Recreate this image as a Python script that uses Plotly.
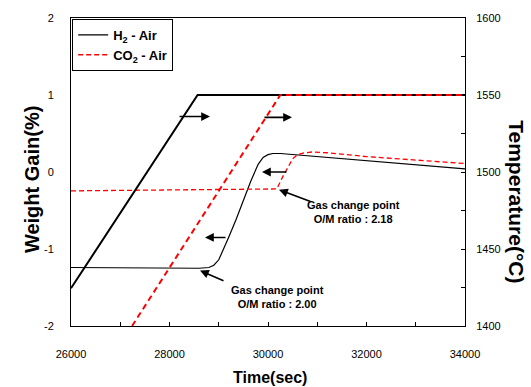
import plotly.graph_objects as go

# ---------------- data ----------------
time_h2_wt = [26000, 27000, 28000, 28600, 28800, 28900, 29000, 29100, 29200, 29350,
              29500, 29650, 29800, 29900, 30000, 30100, 30250, 31000, 32000, 33000, 34000]
wt_h2 = [-1.24, -1.245, -1.25, -1.25, -1.24, -1.21, -1.14, -1.0, -0.85, -0.62,
         -0.37, -0.12, 0.1, 0.19, 0.225, 0.24, 0.24, 0.2, 0.15, 0.1, 0.04]

time_co2_wt = [26000, 27000, 28000, 29000, 30000, 30180, 30300, 30400, 30500, 30600,
               30750, 30900, 31200, 32000, 33000, 34000]
wt_co2 = [-0.245, -0.24, -0.235, -0.23, -0.222, -0.22, -0.06, 0.06, 0.17, 0.225,
          0.25, 0.26, 0.25, 0.2, 0.155, 0.11]

time_h2_t = [26000, 28570, 34000]
temp_h2 = [1424.5, 1550, 1550]

time_co2_t = [27240, 30250, 34000]
temp_co2 = [1400, 1550, 1550]

x_ticks = [26000, 28000, 30000, 32000, 34000]
wt_ticks = [-2, -1, 0, 1, 2]
temp_ticks = [1400, 1450, 1500, 1550, 1600]

FONT = "Liberation Sans, Arial, sans-serif"
RED = "#ff0000"

fig = go.Figure()
fig.add_trace(go.Scatter(x=time_h2_wt, y=wt_h2, mode="lines", name="<b>H<sub>2</sub> - Air</b>",
                         line=dict(color="black", width=1.2), legendgroup="a"))
fig.add_trace(go.Scatter(x=time_co2_wt, y=wt_co2, mode="lines", name="<b>CO<sub>2</sub> - Air</b>",
                         line=dict(color=RED, width=1.3, dash="5px,3px"), legendgroup="b"))
fig.add_trace(go.Scatter(x=time_h2_t, y=temp_h2, mode="lines", yaxis="y2", showlegend=False,
                         line=dict(color="black", width=2)))
fig.add_trace(go.Scatter(x=time_co2_t, y=temp_co2, mode="lines", yaxis="y2", showlegend=False,
                         line=dict(color=RED, width=2, dash="6px,4px")))

# arrows (head x,y ; tail ax,ay)
arrows = [
    (28822, 0.72, 28173, 0.72),
    (30487, 0.71, 29898, 0.71),
    (28721, -0.85, 29168, -0.85),
    (29878, 0.0, 30406, 0.0),
    (30223, -0.23, 30893, -0.39),
    (28619, -1.28, 29127, -1.42),
]
for hx, hy, tx, ty in arrows:
    fig.add_annotation(x=hx, y=hy, ax=tx, ay=ty, xref="x", yref="y", axref="x", ayref="y",
                       text="", showarrow=True, arrowhead=2, arrowsize=1.1, arrowwidth=1.6,
                       arrowcolor="black")

fig.add_annotation(x=31726, y=-0.516, xref="x", yref="y", showarrow=False,
                   xanchor="center", yanchor="middle",
                   text="<b>Gas change point<br>O/M ratio : 2.18</b>",
                   font=dict(family=FONT, size=11, color="black"))
fig.add_annotation(x=30183, y=-1.626, xref="x", yref="y", showarrow=False,
                   xanchor="center", yanchor="middle",
                   text="<b>Gas change point<br>O/M ratio : 2.00</b>",
                   font=dict(family=FONT, size=11, color="black"))

# axis titles
fig.add_annotation(x=0.505, y=-0.168, xref="paper", yref="paper", showarrow=False,
                   xanchor="center", yanchor="middle",
                   text="<b>Time(sec)</b>", font=dict(family=FONT, size=16, color="black"))
fig.add_annotation(x=-0.099, y=0.477, xref="paper", yref="paper", showarrow=False, textangle=-90,
                   xanchor="center", yanchor="middle",
                   text="<b>Weight Gain(%)</b>", font=dict(family=FONT, size=20, color="black"))
fig.add_annotation(x=1.132, y=0.405, xref="paper", yref="paper", showarrow=False, textangle=90,
                   xanchor="center", yanchor="middle",
                   text="<b>Temperature(°C)</b>", font=dict(family=FONT, size=21, color="black"))

fig.update_layout(
    width=531, height=387,
    margin=dict(l=71, r=66, t=16, b=61),
    paper_bgcolor="white", plot_bgcolor="white",
    font=dict(family=FONT, size=11, color="black"),
    showlegend=True,
    legend=dict(x=0.003, y=0.997, xanchor="left", yanchor="top",
                bordercolor="black", borderwidth=1, bgcolor="white",
                font=dict(family=FONT, size=13, color="black"),
                tracegroupgap=0),
    xaxis=dict(range=[26000, 34000], tickvals=x_ticks, ticktext=[str(v) for v in x_ticks],
               ticks="inside", ticklen=4, tickcolor="black",
               minor=dict(dtick=1000, ticks="inside", ticklen=4, tickcolor="black"),
               showline=True, linecolor="black", linewidth=1, mirror=True,
               showgrid=False, zeroline=False, ticklabelstandoff=18),
    yaxis=dict(range=[-2, 2], tickvals=wt_ticks, ticktext=[str(v) for v in wt_ticks],
               ticks="", showline=True, linecolor="black", linewidth=1,
               showgrid=False, zeroline=False, ticklabelstandoff=14),
    yaxis2=dict(range=[1400, 1600], tickvals=temp_ticks, ticktext=[str(v) for v in temp_ticks],
                overlaying="y", side="right", ticks="inside", ticklen=4, tickcolor="black",
                minor=dict(dtick=25, ticks="inside", ticklen=4, tickcolor="black"),
                showline=True, linecolor="black", linewidth=1,
                showgrid=False, zeroline=False, ticklabelstandoff=8),
)

fig.write_html("out.html", config={"displayModeBar": False},
               post_script="document.body.style.margin='0';")
